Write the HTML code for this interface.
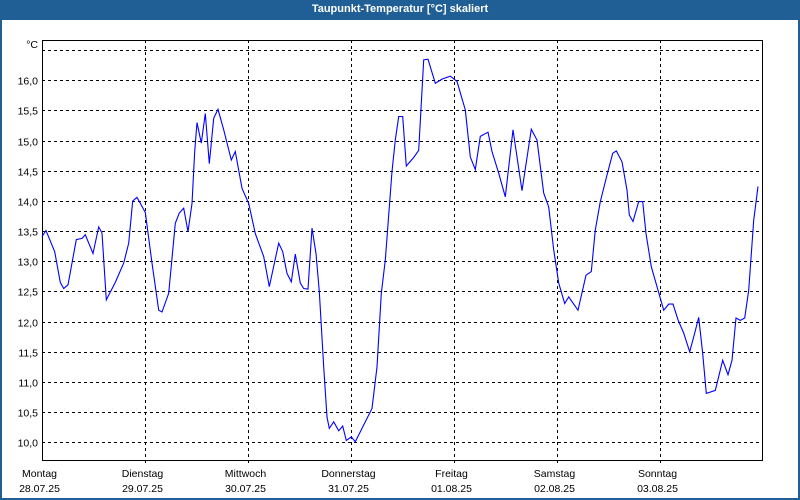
<!DOCTYPE html>
<html><head><meta charset="utf-8"><style>
html,body{margin:0;padding:0;background:#fff;}
#wrap{position:relative;width:800px;height:500px;box-sizing:border-box;border:2px solid #1f5f96;border-top:none;background:#fff;overflow:hidden;}
#title{position:absolute;left:0;top:0;width:796px;height:20px;background:#1f5f96;color:#fff;font:bold 11px "Liberation Sans",sans-serif;text-align:center;line-height:19px;}
svg{position:absolute;left:-2px;top:0;}
text{font-family:"Liberation Sans",sans-serif;font-size:10.5px;fill:#000;}
</style></head><body>
<div id="wrap">
<div id="title">Taupunkt-Temperatur [°C] skaliert</div>
<svg id="chart" width="800" height="500"></svg>
</div>
<script>
const dayNames = ["Montag","Dienstag","Mittwoch","Donnerstag","Freitag","Samstag","Sonntag"];
const dayDates = ["28.07.25","29.07.25","30.07.25","31.07.25","01.08.25","02.08.25","03.08.25"];
const yTicks = [10,10.5,11,11.5,12,12.5,13,13.5,14,14.5,15,15.5,16,16.5];
const yTickLabels = ["10,0","10,5","11,0","11,5","12,0","12,5","13,0","13,5","14,0","14,5","15,0","15,5","16,0",""];
const hours = [0,0.93,2.96,4.26,5.06,6.06,7.99,9.32,10.09,11.88,13.21,13.98,14.98,17.08,19.04,20.2,21.13,22.14,24.07,25.63,27.19,27.96,29.52,31.06,31.99,33.02,34.02,34.95,35.58,36.12,37.12,38.05,38.98,40.01,41.01,42.34,44.11,45.04,46.6,48.16,49.7,51.66,52.96,55.15,56.08,57.09,58.09,59.02,60.19,60.98,61.98,62.91,63.84,64.61,65.64,66.41,66.94,67.97,69.13,70.06,70.9,72.07,73.0,76.89,78.06,79.06,79.99,81.55,82.32,83.11,84.04,84.88,86.61,87.77,88.94,89.94,91.64,93.2,95.13,96.7,98.63,99.8,100.96,102.13,103.92,104.85,106.41,107.95,109.75,111.84,114.01,115.34,116.9,118.07,119.22,120.4,121.79,122.72,124.89,126.76,127.99,128.92,130.09,131.65,132.98,133.81,135.15,136.31,136.84,137.71,139.04,139.97,140.74,141.97,143.3,144.86,146.03,147.03,148.19,149.52,150.92,152.08,153.02,153.95,154.79,156.89,158.61,159.85,160.78,161.71,162.71,163.74,164.67,165.83,166.84];
const temps = [13.41,13.51,13.16,12.65,12.55,12.61,13.36,13.38,13.44,13.13,13.57,13.47,12.36,12.65,12.97,13.30,14.00,14.06,13.81,12.97,12.19,12.16,12.47,13.63,13.80,13.88,13.49,13.96,14.82,15.30,14.96,15.45,14.62,15.37,15.52,15.18,14.68,14.82,14.21,13.96,13.46,13.08,12.58,13.30,13.16,12.80,12.66,13.12,12.64,12.55,12.54,13.55,13.13,12.50,11.25,10.42,10.23,10.34,10.19,10.27,10.03,10.09,10.01,10.56,11.25,12.47,13.02,14.49,15.01,15.40,15.40,14.58,14.72,14.84,16.34,16.35,15.95,16.02,16.07,15.98,15.51,14.73,14.52,15.07,15.14,14.82,14.46,14.07,15.18,14.17,15.19,15.01,14.13,13.90,13.19,12.64,12.30,12.41,12.19,12.77,12.83,13.52,13.99,14.43,14.79,14.83,14.65,14.18,13.77,13.66,13.99,13.99,13.46,12.91,12.58,12.19,12.29,12.29,12.03,11.81,11.50,11.81,12.07,11.47,10.81,10.86,11.36,11.12,11.36,12.06,12.02,12.06,12.52,13.68,14.24];

const svg = document.getElementById('chart');
const NS = 'http://www.w3.org/2000/svg';
const L = 42, R = 762, T = 40, B = 460, DAYW = 103;
function xs(h){ return L + h / 24 * DAYW; }
function ys(v){ return 442.3 - (v - 10) * 60.33; }
function mk(tag, attrs){ const e = document.createElementNS(NS, tag); for (const k in attrs) e.setAttribute(k, attrs[k]); svg.appendChild(e); return e; }

yTicks.forEach((v, i) => {
  const y = Math.round(ys(v)) + 0.5;
  const g = mk('line', {x1: L, x2: R, y1: y, y2: y, stroke: '#000', 'stroke-width': 1, 'stroke-dasharray': '3,3'});
  
  
  if (yTickLabels[i]) {
    const t = mk('text', {x: 38, y: y + 4, 'text-anchor': 'end'});
    t.textContent = yTickLabels[i];
    
    
  }
});
dayNames.forEach((d, i) => {
  const x = Math.round(xs(i * 24)) + 0.5;
  if (i > 0) {
    const g = mk('line', {x1: x, x2: x, y1: T, y2: B + 3, stroke: '#000', 'stroke-width': 1, 'stroke-dasharray': '3,3'});
    
    
  }
  const t1 = mk('text', {x: x - 3, y: 477, 'text-anchor': 'middle'});
  t1.textContent = d;
  
  
  const t2 = mk('text', {x: x - 3, y: 492, 'text-anchor': 'middle'});
  t2.textContent = dayDates[i];
  
  
});
const unit = mk('text', {x: 38, y: 48, 'text-anchor': 'end'});
unit.textContent = '°C';



const frame = mk('path', {d: `M${L+0.5},${T+0.5} H${R+0.5} V${B+0.5} H${L+0.5} Z`, fill: 'none', stroke: '#000', 'stroke-width': 1});



const pts = hours.map((h, i) => xs(h).toFixed(1) + ',' + ys(temps[i]).toFixed(1)).join(' ');
const line = mk('polyline', {points: pts, fill: 'none', stroke: '#0000ff', 'stroke-width': 1.1});


</script>
</body></html>
